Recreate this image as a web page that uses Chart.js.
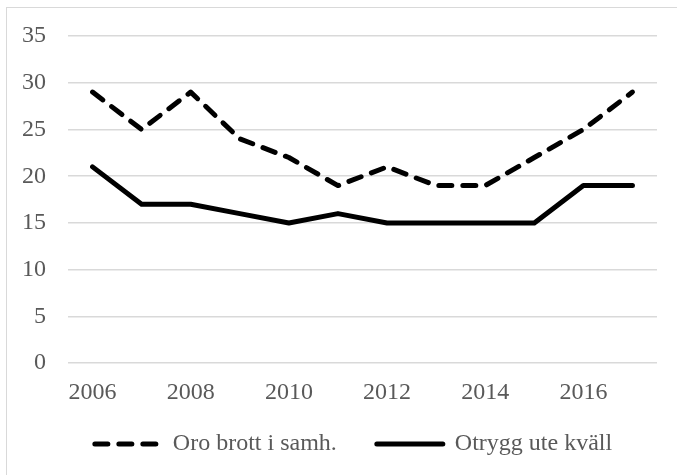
<!DOCTYPE html>
<html>
<head>
<meta charset="utf-8">
<script src="https://cdn.jsdelivr.net/npm/chart.js@4/dist/chart.umd.min.js"></script>
<style>
  html, body { margin: 0; padding: 0; background: #fff; }
  #wrap {
    position: absolute; left: 6px; top: 7px;
    width: 680px; height: 480px;
    border: 1px solid #d9d9d9;
  }
  #chart { display: block; }
</style>
</head>
<body>
<div id="wrap"><canvas id="chart" width="670" height="467"></canvas></div>
<script>
const years = ['2006', '2007', '2008', '2009', '2010', '2011', '2012', '2013', '2014', '2015', '2016', '2017'];
const oroBrott = [29, 25, 29, 24, 22, 19, 21, 19, 19, 22, 25, 29];
const otryggUte = [21, 17, 17, 16, 15, 16, 15, 15, 15, 15, 19, 19];
const seriesNames = ['Oro brott i samh.', 'Otrygg ute kväll'];
const yTicks = { min: 0, max: 35, step: 5 };

const font = "'Liberation Serif', 'Times New Roman', serif";
const textGray = '#595959';

// legend with point styles drops the dash, so put it back
function legendItems(chart) {
    const items = Chart.defaults.plugins.legend.labels.generateLabels(chart);
    items.forEach((item, i) => {
        const ds = chart.data.datasets[item.datasetIndex];
        item.pointStyle = 'line';
        item.lineDash = ds.borderDash || [];
        item.lineWidth = ds.borderWidth;
        item.lineCap = 'round';
        item.strokeStyle = ds.borderColor;
        item.fontColor = textGray;
        if (i === 0) item.text += '     '; // wider gap between the two entries
    });
    return items;
}

const ctx = document.getElementById('chart');
new Chart(ctx, {
    type: 'line',
    data: {
        labels: years,
        datasets: [{
            label: seriesNames[0],
            data: oroBrott,
            borderColor: '#000',
            backgroundColor: '#000',
            borderWidth: 5,
            borderDash: [13, 11],
            borderCapStyle: 'round',
            borderJoinStyle: 'round',
            pointRadius: 0,
            tension: 0
        }, {
            label: seriesNames[1],
            data: otryggUte,
            borderColor: '#000',
            backgroundColor: '#000',
            borderWidth: 5,
            borderCapStyle: 'round',
            borderJoinStyle: 'round',
            pointRadius: 0,
            tension: 0
        }]
    },
    options: {
        responsive: false,
        animation: false,
        layout: { padding: { left: 15, top: 28, right: -8, bottom: 9 } },
        scales: {
            x: {
                offset: true,
                grid: { display: false, drawTicks: false },
                border: { display: false },
                ticks: {
                    autoSkip: false,
                    maxRotation: 0,
                    padding: 15,
                    color: textGray,
                    font: { family: font, size: 24 },
                    callback: function(val, i) { return i % 2 === 0 ? this.getLabelForValue(val) : ''; }
                }
            },
            y: {
                min: yTicks.min,
                max: yTicks.max,
                grid: { color: '#d9d9d9', lineWidth: 1.5, drawTicks: true, tickLength: 22, tickColor: 'rgba(0,0,0,0)' },
                border: { display: false },
                ticks: {
                    stepSize: yTicks.step,
                    padding: 0,
                    color: textGray,
                    font: { family: font, size: 24 }
                }
            },
            // empty right-hand spacer so the plot ends where the reference does
            yRight: {
                position: 'right',
                grid: { display: false, drawTicks: false },
                border: { display: false },
                ticks: { display: false },
                afterFit: s => { s.width = 28; }
            }
        },
        plugins: {
            tooltip: { enabled: false },
            legend: {
                position: 'bottom',
                labels: {
                    usePointStyle: true,
                    pointStyle: 'line',
                    pointStyleWidth: 66,
                    padding: 10,
                    color: textGray,
                    font: { family: font, size: 24 },
                    generateLabels: legendItems
                }
            }
        }
    }
});
</script>
</body>
</html>
